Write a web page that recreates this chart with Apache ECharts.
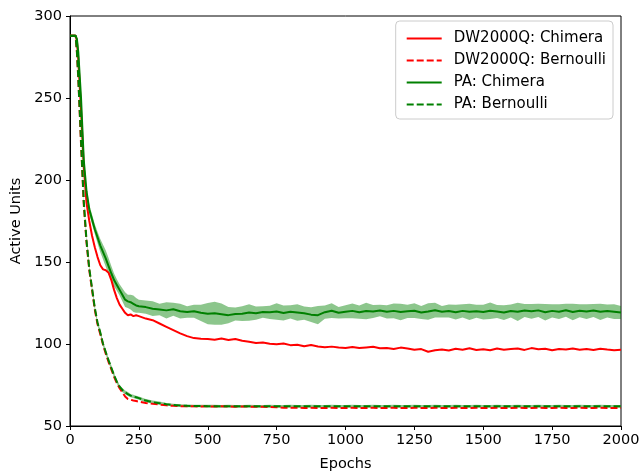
<!DOCTYPE html>
<html>
<head>
<meta charset="utf-8">
<script src="https://cdn.jsdelivr.net/npm/echarts@6/dist/echarts.min.js"></script>
<style>
  html, body { margin: 0; padding: 0; background: #fff; }
  #main { width: 642px; height: 473px; }
</style>
</head>
<body>
<div id="main"></div>
<script>
const epochs = [0, 10, 20, 25, 30, 40, 50, 60, 70, 80, 90, 100, 110, 120, 130, 140, 150, 160, 170, 180, 190, 200, 210, 220, 230, 240, 250,
  275, 300, 325, 350, 375, 400, 425, 450, 475, 500,
  525, 550, 575, 600, 625, 650, 675, 700, 725, 750,
  775, 800, 825, 850, 875, 900, 925, 950, 975, 1000,
  1025, 1050, 1075, 1100, 1125, 1150, 1175, 1200, 1225, 1250,
  1275, 1300, 1325, 1350, 1375, 1400, 1425, 1450, 1475, 1500,
  1525, 1550, 1575, 1600, 1625, 1650, 1675, 1700, 1725, 1750,
  1775, 1800, 1825, 1850, 1875, 1900, 1925, 1950, 1975, 2000];

const dwChimera = [288, 288, 288, 285, 274, 243, 208, 186, 175, 166, 159, 153, 148, 145.5, 145, 143.5, 139, 133, 128, 124, 121.5, 119, 117.5, 118, 117, 117.5, 117,
  115.5, 114.5, 112.5, 110.5, 108.5, 106.5, 104.8, 103.6, 103.2, 103.0,
  102.6, 103.3, 102.5, 103.1, 102.0, 101.4, 100.6, 100.9, 100.2, 99.8,
  100.3, 99.3, 99.6, 98.6, 99.4, 98.5, 98.0, 98.4, 97.8, 97.6,
  98.2, 97.5, 97.9, 98.3, 97.4, 97.6, 97.0, 97.8, 97.3, 96.5,
  96.9, 95.3, 96.2, 96.7, 96.0, 97.1, 96.5, 97.4, 96.3, 96.8,
  96.2, 97.2, 96.5, 96.9, 97.3, 96.4, 97.5, 96.8, 97.1, 96.2,
  97.0, 96.6, 97.3, 96.5, 96.9, 96.3, 97.1, 96.6, 96.2, 96.5];

const dwBernoulli = [288, 288, 288, 278, 262, 222, 185, 162, 145, 133, 121, 112, 106, 99.5, 94, 89, 84.5, 80, 76, 73, 70.5, 68, 66.5, 66, 65.5, 65.2, 64.8,
  64.0, 63.5, 63.1, 62.6, 62.3, 62.1, 62.0, 62.0, 61.9, 62.0,
  61.9, 62.0, 61.9, 61.8, 61.9, 61.8, 61.8, 61.7, 61.6, 61.4,
  61.2, 61.1, 61.1, 61.0, 61.1, 61.0, 61.0, 61.1, 61.0, 61.0,
  61.1, 61.0, 61.0, 61.1, 61.0, 61.0, 61.1, 61.0, 61.0, 61.1,
  61.0, 61.0, 61.1, 61.0, 61.0, 61.1, 61.0, 61.0, 61.1, 61.0,
  61.0, 61.1, 61.0, 61.0, 61.1, 61.0, 61.0, 61.1, 61.0, 61.0,
  61.1, 61.0, 61.0, 61.1, 61.0, 61.0, 61.1, 61.0, 61.0, 61.0];

const paChimera = [288, 288, 288, 286, 278, 250, 212, 193, 182, 176, 170, 165, 160, 156, 152, 147.5, 143, 139, 136, 133, 130, 127, 126, 125.5, 124.5, 123.5, 123,
  122.5, 121.5, 121.0, 120.5, 121.2, 120.0, 119.5, 120.0, 119.0, 118.5,
  118.8, 118.2, 117.6, 118.3, 118.5, 119.2, 118.8, 119.5, 119.3, 119.8,
  118.9, 119.6, 119.2, 118.8, 117.9, 117.6, 119.4, 120.3, 119.1, 119.7,
  120.2, 119.4, 120.1, 119.8, 120.4, 119.6, 120.2, 119.5, 119.9, 120.3,
  119.2, 119.8, 120.6, 119.7, 120.1, 119.4, 120.2, 119.6, 120.0, 119.5,
  120.3, 119.8, 119.2, 120.1, 119.6, 120.4, 119.9, 120.5, 119.4, 120.2,
  119.7, 120.6, 119.5, 120.3, 119.8, 120.4, 119.6, 120.1, 119.7, 119.2];

// half width of the shaded band around PA: Chimera
const paChimeraSpread = [0.5, 0.5, 0.5, 1, 2, 3, 3, 3, 3, 3, 3, 3.5, 4, 4.5, 5, 5, 4.5, 4, 3.5, 3.5, 4, 4.5, 4, 4.5, 5, 4.5, 4,
  4, 4.5, 3.5, 5, 4, 4.5, 3.5, 4, 5, 6.5,
  7, 6.5, 5, 4, 4.5, 5, 4, 3.5, 4, 5,
  4.5, 4, 5, 4, 4.5, 5.5, 4, 4.5, 3.5, 4,
  4.5, 4, 5, 4, 3.5, 4, 4.5, 5, 4, 4.5,
  4, 5, 4.5, 3.5, 4, 4.5, 4, 5, 4, 4.5,
  5, 4, 4.5, 4, 5.5, 4, 4.5, 4, 5, 4,
  4.5, 4, 5, 4, 4.5, 4, 5, 4, 4.5, 4];

const paBernoulli = [288, 288, 288, 279, 263, 224, 187, 163, 146, 134, 122, 113, 107, 100, 95, 90, 85.5, 81, 77, 74, 72, 70.5, 69.5, 68.5, 68, 67.5, 67,
  65.5, 64.5, 63.9, 63.3, 62.8, 62.5, 62.3, 62.2, 62.2, 62.1,
  62.1, 62.0, 62.1, 62.0, 62.0, 62.1, 62.0, 62.0, 62.1, 62.0,
  62.0, 62.1, 62.0, 62.0, 62.1, 62.0, 62.0, 62.1, 62.0, 62.0,
  62.1, 62.0, 62.0, 62.1, 62.0, 62.0, 62.1, 62.0, 62.0, 62.1,
  62.0, 62.0, 62.1, 62.0, 62.0, 62.1, 62.0, 62.0, 62.1, 62.0,
  62.0, 62.1, 62.0, 62.0, 62.1, 62.0, 62.0, 62.1, 62.0, 62.0,
  62.1, 62.0, 62.0, 62.1, 62.0, 62.0, 62.1, 62.0, 62.0, 62.0];

const paBernoulliSpread = [0.3, 0.3, 0.3, 0.5, 1, 1.5, 1.5, 1.5, 1.5, 1.5, 1.5, 1.5, 1.5, 1.5, 1.5, 1.5, 1.5, 1.5, 1.2, 1.2, 1.2, 1.2, 1.2, 1, 1, 1, 1,
  1, 1, 1, 0.8, 0.8, 0.8, 0.8, 0.8, 0.8, 0.8,
  0.8, 0.8, 0.8, 0.8, 0.8, 0.8, 0.8, 0.8, 0.8, 0.8,
  0.8, 0.8, 0.8, 0.8, 0.8, 0.8, 0.8, 0.8, 0.8, 0.8,
  0.8, 0.8, 0.8, 0.8, 0.8, 0.8, 0.8, 0.8, 0.8, 0.8,
  0.8, 0.8, 0.8, 0.8, 0.8, 0.8, 0.8, 0.8, 0.8, 0.8,
  0.8, 0.8, 0.8, 0.8, 0.8, 0.8, 0.8, 0.8, 0.8, 0.8,
  0.8, 0.8, 0.8, 0.8, 0.8, 0.8, 0.8, 0.8, 0.8, 0.8];

const seriesNames = ['DW2000Q: Chimera', 'DW2000Q: Bernoulli', 'PA: Chimera', 'PA: Bernoulli'];
const RED = '#ff0000';
const GREEN = '#008000';
const FONT = 'DejaVu Sans';

function pairs(ys) {
  return epochs.map((x, i) => [x, ys[i]]);
}

// shaded band drawn as one polygon through the axis scales
function band(mean, spread, id) {
  return {
    id: id, type: 'custom', silent: true, z: 1,
    data: [[0]],
    renderItem: function (params, api) {
      const pts = [];
      for (let i = 0; i < epochs.length; i++) pts.push(api.coord([epochs[i], mean[i] + spread[i]]));
      for (let i = epochs.length - 1; i >= 0; i--) pts.push(api.coord([epochs[i], mean[i] - spread[i]]));
      return {
        type: 'polygon',
        shape: { points: pts },
        style: { fill: GREEN, opacity: 0.45 }
      };
    }
  };
}

function line(name, ys, color, dashed, z) {
  return {
    name: name, type: 'line', data: pairs(ys), symbol: 'none', z: z,
    lineStyle: { color: color, width: 2, type: dashed ? [7, 3] : 'solid' },
    itemStyle: { color: color }
  };
}

const chart = echarts.init(document.getElementById('main'));
chart.setOption({
  animation: false,
  backgroundColor: '#fff',
  grid: {
    left: 70, right: 21, top: 16, bottom: 47, outerBoundsMode: 'none', containLabel: false,
    show: true, borderColor: '#000', borderWidth: 1
  },
  legend: {
    data: seriesNames,
    orient: 'vertical',
    right: 29, top: 21,
    padding: [10, 7, 7, 10],
    itemWidth: 35, itemHeight: 12, itemGap: 7,
    itemStyle: { opacity: 0 },
    borderColor: '#cccccc', borderWidth: 1, borderRadius: 4,
    backgroundColor: 'rgba(255,255,255,0.8)',
    textStyle: { fontFamily: FONT, fontSize: 15, color: '#000', padding: [0, 0, 0, 7] }
  },
  xAxis: {
    type: 'value', min: 0, max: 2000, interval: 250,
    name: 'Epochs', nameLocation: 'middle', nameGap: 31,
    nameTextStyle: { fontFamily: FONT, fontSize: 14.5, color: '#000' },
    axisLine: { lineStyle: { color: '#000', width: 1 } },
    axisTick: { length: 4, lineStyle: { color: '#000' } },
    axisLabel: { fontFamily: FONT, fontSize: 14.5, color: '#000', margin: 7, formatter: v => String(v) },
    splitLine: { show: false }
  },
  yAxis: {
    type: 'value', min: 50, max: 300, interval: 50,
    name: 'Active Units', nameLocation: 'middle', nameGap: 44,
    nameTextStyle: { fontFamily: FONT, fontSize: 14.5, color: '#000' },
    axisLine: { show: true, lineStyle: { color: '#000', width: 1 } },
    axisTick: { show: true, length: 4, lineStyle: { color: '#000' } },
    axisLabel: { fontFamily: FONT, fontSize: 14.5, color: '#000', margin: 8 },
    splitLine: { show: false }
  },
  series: [
    band(paChimera, paChimeraSpread, 'bandA'),
    band(paBernoulli, paBernoulliSpread, 'bandB'),
    line(seriesNames[0], dwChimera, RED, false, 2),
    line(seriesNames[1], dwBernoulli, RED, true, 3),
    line(seriesNames[2], paChimera, GREEN, false, 4),
    line(seriesNames[3], paBernoulli, GREEN, true, 5)
  ]
});
</script>
</body>
</html>
